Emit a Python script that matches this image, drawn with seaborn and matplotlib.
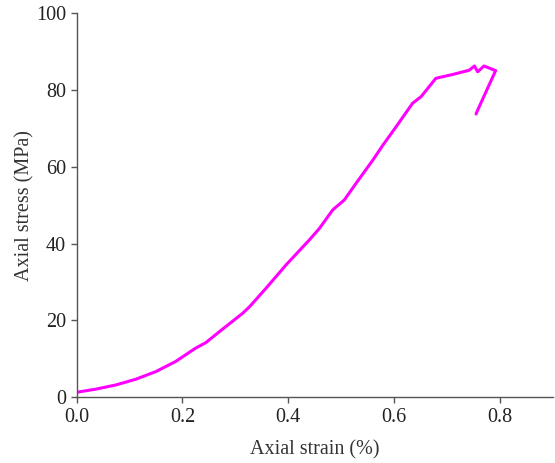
import matplotlib
matplotlib.use("Agg")
import matplotlib.pyplot as plt
import seaborn as sns
import pandas as pd

strain = [0.0, 0.036, 0.074, 0.112, 0.150, 0.187, 0.225, 0.244, 0.270, 0.314,
          0.327, 0.358, 0.396, 0.440, 0.459, 0.484, 0.506, 0.528, 0.560, 0.579,
          0.604, 0.635, 0.651, 0.679, 0.711, 0.742, 0.752, 0.758, 0.770, 0.792,
          0.758, 0.755]
stress = [1.3, 2.1, 3.2, 4.7, 6.7, 9.3, 12.8, 14.2, 17.1, 21.9,
          23.6, 28.4, 34.5, 41.0, 44.0, 48.8, 51.4, 55.7, 61.8, 65.7,
          70.5, 76.6, 78.3, 83.1, 84.1, 85.2, 86.3, 84.8, 86.3, 85.1,
          74.8, 73.8]

df = pd.DataFrame({"strain": strain, "stress": stress})

sns.set_style("ticks")
plt.rcParams['font.family'] = ['Liberation Serif', 'DejaVu Serif']

fig = plt.figure(figsize=(5.55, 4.63), dpi=100)
ax = fig.add_axes([0.138, 0.142, 0.858, 0.829])
sns.lineplot(data=df, x="strain", y="stress", sort=False, estimator=None,
             color="#FF00FF", linewidth=2.2, ax=ax)
ax.set_xlim(0, 0.9)
ax.set_ylim(0, 100)
ax.set_xticks([0.0, 0.2, 0.4, 0.6, 0.8])
ax.set_yticks([0, 20, 40, 60, 80, 100])
ax.set_xlabel("Axial strain (%)", fontsize=14.5, color="#333333", labelpad=10)
ax.set_ylabel("Axial stress (MPa)", fontsize=14.5, color="#333333", labelpad=1)
ax.tick_params(labelsize=14.5, labelcolor="#222222", length=4, width=1,
               direction="out", color="#555555")
for s in ["top", "right"]:
    ax.spines[s].set_visible(False)
for s in ["left", "bottom"]:
    ax.spines[s].set_color("#555555")
    ax.spines[s].set_linewidth(1.0)
fig.savefig("out.png", dpi=100)
